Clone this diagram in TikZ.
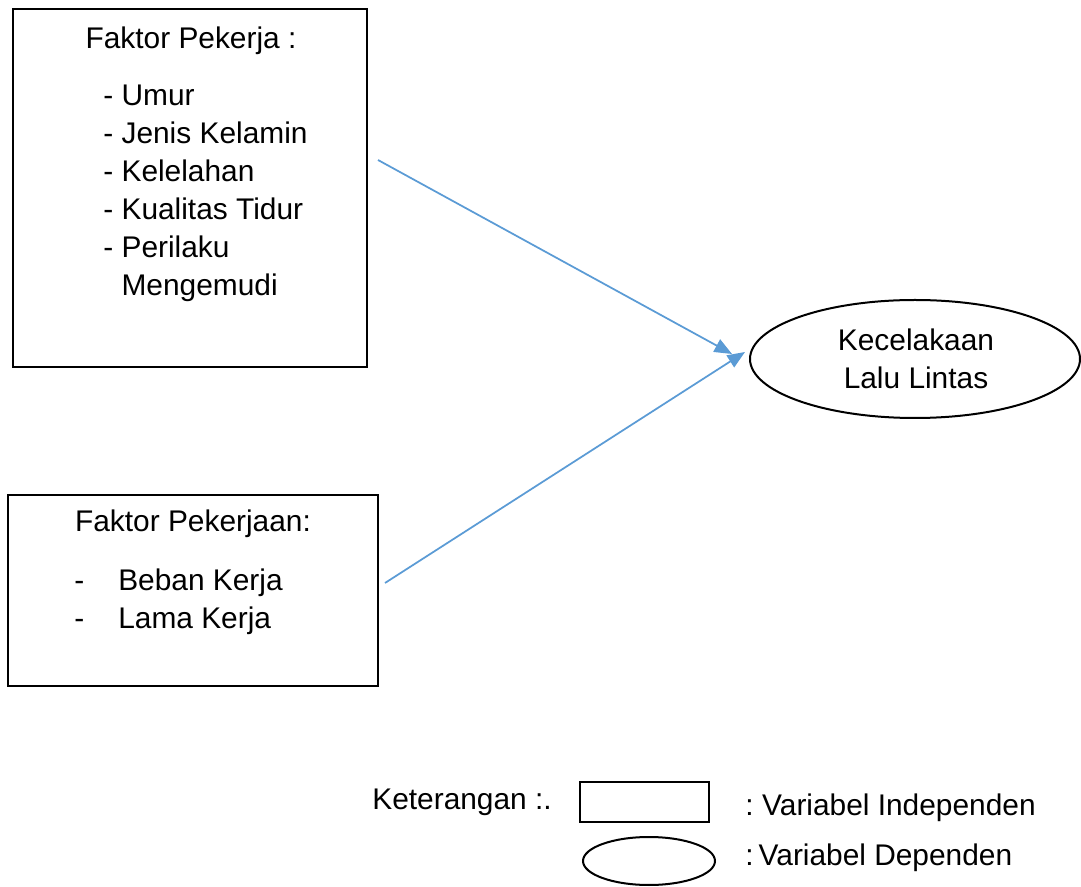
\documentclass[tikz,border=0pt]{standalone}
\usepackage{fontspec}
\setmainfont{Liberation Sans}
\usepackage{xcolor}
\usepackage{tikz}
\usetikzlibrary{shapes.geometric,arrows.meta}
\definecolor{birupanah}{RGB}{91,155,213}

\begin{document}
\begin{tikzpicture}[
  every node/.style={font=\fontsize{17}{21.6}\selectfont},
  kotak/.style={draw,line width=.4mm,minimum width=#1},
  elips/.style={draw,ellipse,line width=.4mm},
  panah/.style={draw=birupanah,line width=.35mm,-{Triangle[length=3.5mm,width=2.8mm]}}
]
\useasboundingbox (0,0) rectangle (21.62,17.72);
% kotak faktor pekerja
\node[kotak=7.08cm,minimum height=7.16cm] (pekerja) at (3.8,13.96) {};
\node (judul1) at (3.82,16.9) {Faktor Pekerja :};
\node[align=left,inner sep=0,anchor=west] (isi1) at (2.06,13.86) {- Umur\\- Jenis Kelamin\\- Kelelahan\\- Kualitas Tidur\\- Perilaku\\\hphantom{- }Mengemudi};
% kotak faktor pekerjaan
\node[kotak=7.4cm,minimum height=3.82cm] (pekerjaan) at (3.86,5.91) {};
\node (judul2) at (3.86,7.24) {Faktor Pekerjaan:};
\node[align=left,inner sep=0,anchor=west] (isi2) at (1.48,5.69) {-\hspace{0.68cm}Beban Kerja\\-\hspace{0.68cm}Lama Kerja};
% variabel dependen
\node[elips,minimum width=6.6cm,minimum height=2.36cm] (kecelakaan) at (18.3,10.54) {};
\node[align=center] (judul3) at (18.32,10.54) {Kecelakaan\\Lalu Lintas};
% panah
\coordinate (a1) at (7.56,14.52);
\coordinate (b1) at (14.64,10.64);
\coordinate (a2) at (7.7,6.06);
\coordinate (b2) at (14.9,10.68);
\draw[panah] (a1) -- (b1);
\draw[panah] (a2) -- (b2);
% keterangan
\node[anchor=west,inner sep=0] (ket) at (7.44,1.68) {Keterangan :.};
\node[kotak=2.58cm,minimum height=0.8cm] (ketkotak) at (12.89,1.68) {};
\node[elips,minimum width=2.64cm,minimum height=0.96cm] (ketelips) at (12.98,0.5) {};
\node[anchor=west,inner sep=0] (ketind) at (14.9,1.56) {:\hspace{0.17cm}Variabel Independen};
\node[anchor=west,inner sep=0] (ketdep) at (14.9,0.56) {:\hspace{0.1cm}Variabel Dependen};
\end{tikzpicture}
\end{document}
